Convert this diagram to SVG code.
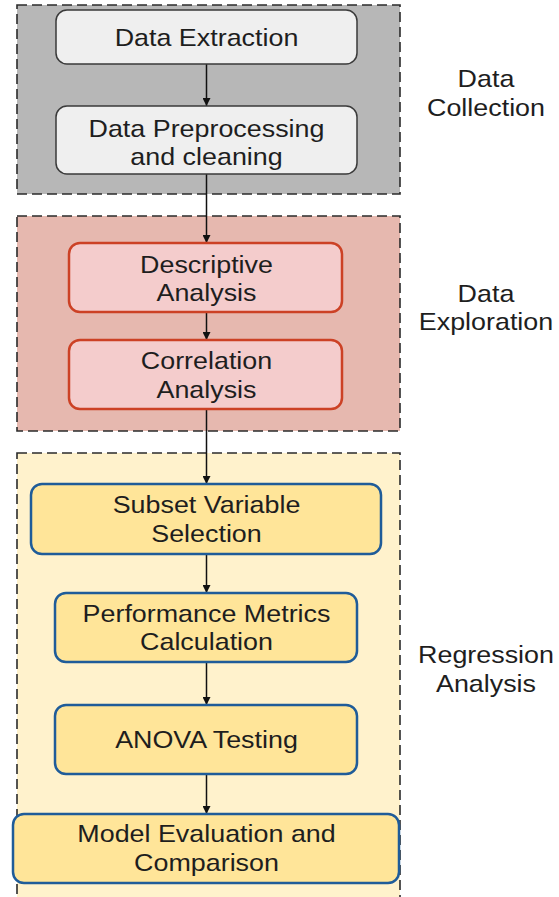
<svg xmlns="http://www.w3.org/2000/svg" width="559" height="897" viewBox="0 0 559 897">
  <defs>
    <marker id="arrow" viewBox="0 0 8 8" refX="8" refY="4" markerWidth="8" markerHeight="8" markerUnits="userSpaceOnUse" orient="auto">
      <path d="M0,0 L8,4 L0,8 z" fill="#111"/>
    </marker>
    <style>
      .stage { stroke: #2b2b2b; stroke-width: 1.6; stroke-dasharray: 10 5; }
      .gray-stage { fill: #b7b7b7; }
      .red-stage { fill: #e6b8af; }
      .yellow-stage { fill: #fff2cc; }
      .gray-node { fill: #efefef; stroke: #3a3a3a; stroke-width: 1.5; }
      .red-node { fill: #f4cccc; stroke: #cc4125; stroke-width: 2.5; }
      .yellow-node { fill: #ffe599; stroke: #1f5c99; stroke-width: 2.5; }
      text { font-family: "Liberation Sans", Arial, sans-serif; font-size: 24px; fill: #1e1e1e; text-anchor: middle; }
      .link { stroke: #111; stroke-width: 1.5; fill: none; marker-end: url(#arrow); }
    </style>
  </defs>

  <!-- stage backgrounds -->
  <g id="stages">
    <rect class="stage gray-stage" x="17" y="5" width="383" height="189"/>
    <rect class="stage red-stage" x="17" y="216" width="383" height="215"/>
    <rect class="stage yellow-stage" x="17" y="453" width="383" height="460"/>
  </g>

  <!-- stage labels (text is set slightly wide: scale 1.12 horizontally) -->
  <g id="stage-labels">
    <text transform="translate(486 87) scale(1.12 1)">Data</text>
    <text transform="translate(486 116) scale(1.12 1)">Collection</text>
    <text transform="translate(486 302) scale(1.12 1)">Data</text>
    <text transform="translate(486 330) scale(1.12 1)">Exploration</text>
    <text transform="translate(486 663) scale(1.12 1)">Regression</text>
    <text transform="translate(486 692) scale(1.12 1)">Analysis</text>
  </g>

  <!-- connectors -->
  <g id="connectors">
    <line class="link" x1="206.5" y1="64" x2="206.5" y2="106"/>
    <line class="link" x1="206.5" y1="174" x2="206.5" y2="243"/>
    <line class="link" x1="206.5" y1="312" x2="206.5" y2="340"/>
    <line class="link" x1="206.5" y1="409" x2="206.5" y2="484"/>
    <line class="link" x1="206.5" y1="554" x2="206.5" y2="593"/>
    <line class="link" x1="206.5" y1="662" x2="206.5" y2="705"/>
    <line class="link" x1="206.5" y1="774" x2="206.5" y2="814"/>
  </g>

  <g id="data-extraction">
    <rect class="gray-node" x="56" y="10" width="301" height="54" rx="11"/>
    <text transform="translate(206.5 46) scale(1.12 1)">Data Extraction</text>
  </g>
  <g id="data-preprocessing">
    <rect class="gray-node" x="56" y="106" width="301" height="68" rx="11"/>
    <text transform="translate(206.5 137) scale(1.12 1)">Data Preprocessing</text>
    <text transform="translate(206.5 165) scale(1.12 1)">and cleaning</text>
  </g>

  <g id="descriptive-analysis">
    <rect class="red-node" x="69" y="243" width="273" height="69" rx="11"/>
    <text transform="translate(206.5 273) scale(1.12 1)">Descriptive</text>
    <text transform="translate(206.5 301) scale(1.12 1)">Analysis</text>
  </g>
  <g id="correlation-analysis">
    <rect class="red-node" x="69" y="340" width="273" height="69" rx="11"/>
    <text transform="translate(206.5 369) scale(1.12 1)">Correlation</text>
    <text transform="translate(206.5 398) scale(1.12 1)">Analysis</text>
  </g>

  <g id="subset-variable-selection">
    <rect class="yellow-node" x="31" y="484" width="350" height="70" rx="11"/>
    <text transform="translate(206.5 513) scale(1.12 1)">Subset Variable</text>
    <text transform="translate(206.5 542) scale(1.12 1)">Selection</text>
  </g>
  <g id="performance-metrics">
    <rect class="yellow-node" x="55" y="593" width="302" height="69" rx="11"/>
    <text transform="translate(206.5 622) scale(1.12 1)">Performance Metrics</text>
    <text transform="translate(206.5 650) scale(1.12 1)">Calculation</text>
  </g>
  <g id="anova-testing">
    <rect class="yellow-node" x="55" y="705" width="302" height="69" rx="11"/>
    <text transform="translate(206.5 748) scale(1.12 1)">ANOVA Testing</text>
  </g>
  <g id="model-evaluation">
    <rect class="yellow-node" x="13" y="814" width="386" height="69" rx="11"/>
    <text transform="translate(206.5 842) scale(1.12 1)">Model Evaluation and</text>
    <text transform="translate(206.5 871) scale(1.12 1)">Comparison</text>
  </g>
</svg>
